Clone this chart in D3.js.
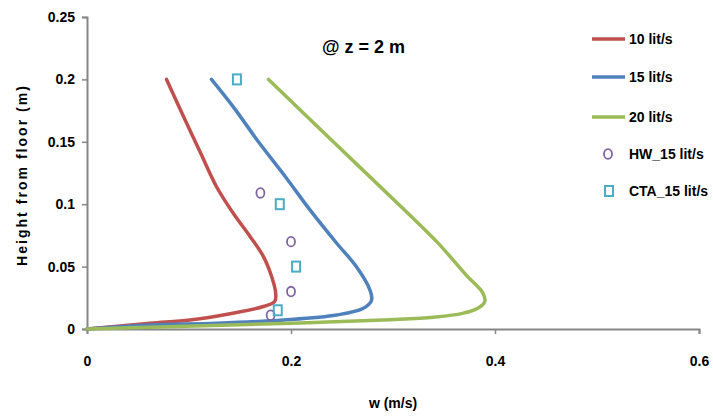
<!DOCTYPE html>
<html>
<head>
<meta charset="utf-8">
<script src="https://cdn.jsdelivr.net/npm/d3@7"></script>
<style>
  html, body { margin: 0; padding: 0; background: #fff; }
  svg text { font-family: "Liberation Sans", Arial, sans-serif; font-weight: bold; fill: #000; }
</style>
</head>
<body>
<svg id="chart" width="713" height="417"></svg>
<script>
// Velocity profiles at z = 2 m: [w (m/s), height (m)]
const seriesNames = ["10 lit/s", "15 lit/s", "20 lit/s"];
const seriesColors = ["#C0504D", "#4F81BD", "#9BBB59"];
const profile10 = [[0,0],[0.062,0.0046],[0.101,0.0072],[0.143,0.0126],[0.173,0.018],[0.184,0.022],
  [0.185,0.0286],[0.181,0.042],[0.173,0.058],[0.160,0.074],[0.1434,0.0927],[0.127,0.114],
  [0.1115,0.1408],[0.0962,0.1675],[0.078,0.2]];
const profile15 = [[0,0],[0.062,0.0032],[0.127,0.0046],[0.1925,0.0072],[0.2448,0.0112],[0.271,0.0166],
  [0.279,0.023],[0.2775,0.031],[0.264,0.050],[0.2448,0.0687],[0.2186,0.0954],[0.1945,0.122],
  [0.169,0.149],[0.1434,0.178],[0.122,0.2]];
const profile20 = [[0,0],[0.062,0.0015],[0.209,0.0048],[0.297,0.0075],[0.340,0.0095],[0.368,0.0125],
  [0.384,0.017],[0.390,0.022],[0.388,0.029],[0.372,0.043],[0.344,0.069],[0.308,0.098],
  [0.244,0.148],[0.178,0.2]];

// Measurements at 15 lit/s
const hwName = "HW_15 lit/s";
const hwPoints = [[0.170,0.109],[0.200,0.070],[0.200,0.030],[0.180,0.011]];
const ctaName = "CTA_15 lit/s";
const ctaPoints = [[0.147,0.2],[0.189,0.1],[0.205,0.05],[0.187,0.015]];

const xTicks = [0, 0.2, 0.4, 0.6];
const xTickLabels = ["0", "0.2", "0.4", "0.6"];
const yTicks = [0, 0.05, 0.1, 0.15, 0.2, 0.25];
const yTickLabels = ["0", "0.05", "0.1", "0.15", "0.2", "0.25"];
const titleText = "@ z = 2 m";
const xTitle = "w (m/s)";
const yTitle = "Height from floor (m)";

const svg = d3.select("#chart");
const x = d3.scaleLinear().domain([0, 0.6]).range([87, 699]);
const y = d3.scaleLinear().domain([0, 0.25]).range([329, 17]);
const axisColor = "#868686";

// Axes
const xAxis = svg.append("g").attr("transform", `translate(0,${y(0)})`)
  .call(d3.axisBottom(x).tickValues(xTicks).tickSize(5).tickPadding(22)
    .tickFormat((d, i) => xTickLabels[i]));
const yAxis = svg.append("g").attr("transform", `translate(${x(0)},0)`)
  .call(d3.axisLeft(y).tickValues(yTicks).tickSize(5).tickPadding(7)
    .tickFormat((d, i) => yTickLabels[i]));
[xAxis, yAxis].forEach(g => {
  g.select(".domain").attr("stroke", axisColor).attr("stroke-width", 2);
  g.selectAll(".tick line").attr("stroke", axisColor).attr("stroke-width", 1.5);
  g.selectAll(".tick text").style("font-size", "14px").attr("fill", "#000");
});

// Profiles (smoothed lines)
const line = d3.line().x(d => x(d[0])).y(d => y(d[1])).curve(d3.curveCatmullRom.alpha(0.5));
[profile10, profile15, profile20].forEach((data, i) => {
  svg.append("path").datum(data).attr("d", line)
    .attr("fill", "none").attr("stroke", seriesColors[i])
    .attr("stroke-width", 3.5).attr("stroke-linecap", "round").attr("stroke-linejoin", "round");
});

// Measurement markers
svg.append("g").selectAll("ellipse").data(hwPoints).join("ellipse")
  .attr("cx", d => x(d[0])).attr("cy", d => y(d[1])).attr("rx", 4).attr("ry", 4.8)
  .attr("fill", "none").attr("stroke", "#8064A2").attr("stroke-width", 1.8);
svg.append("g").selectAll("rect").data(ctaPoints).join("rect")
  .attr("x", d => x(d[0]) - 4).attr("y", d => y(d[1]) - 5).attr("width", 8).attr("height", 10)
  .attr("fill", "none").attr("stroke", "#4BACC6").attr("stroke-width", 2);

// Titles
svg.append("text").attr("x", 322).attr("y", 53).style("font-size", "18px").text(titleText);
svg.append("text").attr("x", 393).attr("y", 408).attr("text-anchor", "middle")
  .style("font-size", "14px").text(xTitle);
svg.append("text").attr("transform", "translate(27,176) rotate(-90)").attr("text-anchor", "middle")
  .style("font-size", "14px").attr("textLength", 180).attr("lengthAdjust", "spacing").text(yTitle);

// Legend
const legend = svg.append("g");
const lineRows = [39, 77, 117];
seriesNames.forEach((name, i) => {
  legend.append("line").attr("x1", 592).attr("x2", 625).attr("y1", lineRows[i]).attr("y2", lineRows[i])
    .attr("stroke", seriesColors[i]).attr("stroke-width", 3.5);
  legend.append("text").attr("x", 629).attr("y", lineRows[i] + 5).style("font-size", "14px").text(name);
});
legend.append("ellipse").attr("cx", 608).attr("cy", 154).attr("rx", 4).attr("ry", 4.8)
  .attr("fill", "none").attr("stroke", "#8064A2").attr("stroke-width", 1.8);
legend.append("text").attr("x", 629).attr("y", 159).style("font-size", "14px").text(hwName);
legend.append("rect").attr("x", 605).attr("y", 186).attr("width", 8).attr("height", 10)
  .attr("fill", "none").attr("stroke", "#4BACC6").attr("stroke-width", 2);
legend.append("text").attr("x", 629).attr("y", 196).style("font-size", "14px").text(ctaName);
</script>
</body>
</html>
